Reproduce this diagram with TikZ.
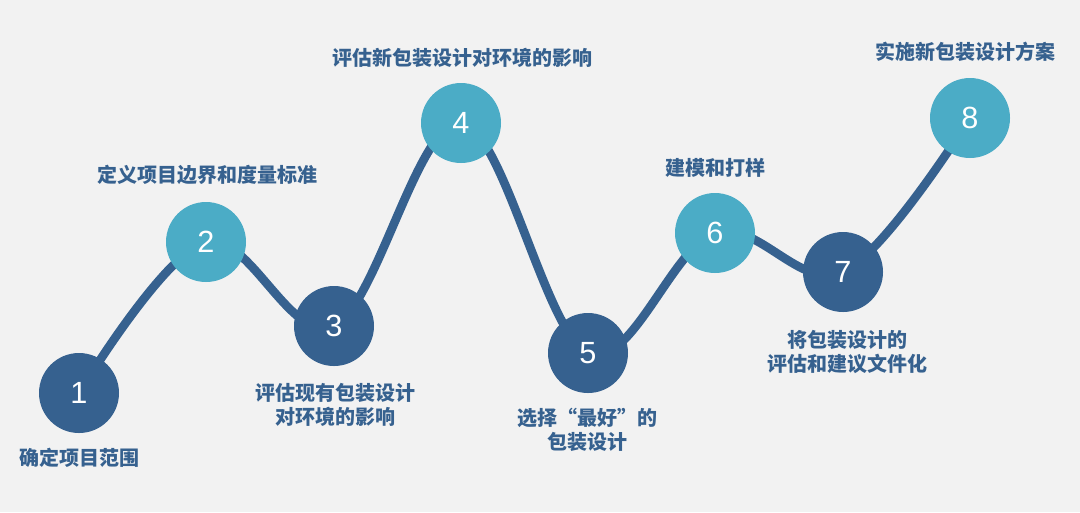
\documentclass[tikz,border=0pt]{standalone}
\usepackage{fontspec}
\setmainfont{Liberation Sans}
\newfontfamily\cjk{Noto Sans CJK SC}
\definecolor{stepblue}{HTML}{36618F}
\definecolor{stepteal}{HTML}{4BACC6}
\definecolor{bggray}{HTML}{F2F2F2}
\begin{document}
\begin{tikzpicture}[x=0.75pt,y=-0.75pt,
    dark/.style={circle,fill=stepblue,minimum size=60pt,inner sep=0pt,text=white,font=\fontsize{23}{23}\selectfont},
    light/.style={dark,fill=stepteal},
    lbl/.style={text=stepblue,font=\cjk\bfseries\fontsize{15}{18}\selectfont,align=center,inner sep=0pt}]
    \fill [bggray] (0,0) rectangle (1080,512);
    % points on the wave
    \coordinate (p1) at (79,393);
    \coordinate (p2) at (206,242);
    \coordinate (p3) at (334,326);
    \coordinate (p4) at (461,123);
    \coordinate (p5) at (588,353);
    \coordinate (p6) at (715,233);
    \coordinate (p7) at (843,272);
    \coordinate (p8) at (970,118);
    \draw [stepblue,line width=6.5pt] plot [smooth,tension=0.6] coordinates {(p1) (p2) (p3) (p4) (p5) (p6) (p7) (p8)};
    \node [dark] (n1) at (p1) {1};
    \node [light] (n2) at (p2) {2};
    \node [dark] (n3) at (p3) {3};
    \node [light] (n4) at (p4) {4};
    \node [dark] (n5) at (p5) {5};
    \node [light] (n6) at (p6) {6};
    \node [dark] (n7) at (p7) {7};
    \node [light] (n8) at (p8) {8};
    % labels
    \node [lbl] (t1) at (79,458) {确定项目范围};
    \node [lbl] (t2) at (207,175) {定义项目边界和度量标准};
    \node [lbl] (t3) at (335,405) {评估现有包装设计\\对环境的影响};
    \node [lbl] (t4) at (462,58) {评估新包装设计对环境的影响};
    \node [lbl] (t5) at (587,430) {选择“最好”的\\包装设计};
    \node [lbl] (t6) at (715,168) {建模和打样};
    \node [lbl] (t7) at (847,352) {将包装设计的\\评估和建议文件化};
    \node [lbl] (t8) at (965,52) {实施新包装设计方案};
\end{tikzpicture}
\end{document}
